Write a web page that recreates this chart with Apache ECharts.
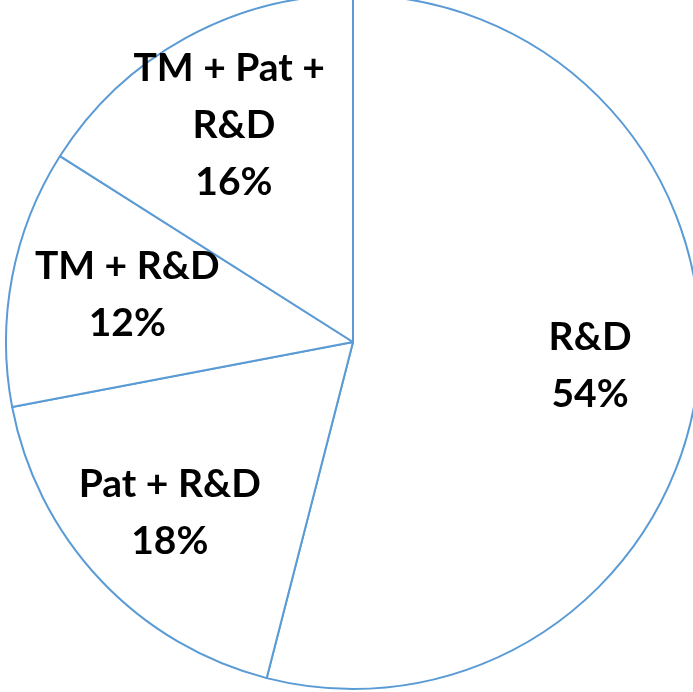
<!DOCTYPE html>
<html>
<head>
<meta charset="utf-8">
<script src="https://cdn.jsdelivr.net/npm/echarts@6/dist/echarts.min.js"></script>
<style>
  html, body { margin: 0; padding: 0; background: #fff; }
  #chart { width: 693px; height: 692px; }
</style>
</head>
<body>
<div id="chart"></div>
<script>
// Share of firms by combination of IP activities
const categories = ['R&D', 'Pat + R&D', 'TM + R&D', 'TM + Pat + R&D'];
const shares = [54, 18, 12, 16];

// Small per-slice nudges for the label placement
const labelNudges = [[0, -6], [-9, 7], [9, -2], [-4, -7]];

const center = [353, 342];
const radius = 347;
const labelFont = {
  fontFamily: 'Lato',
  fontWeight: 'bold',
  fontSize: 39,
  lineHeight: 57,
  color: '#000'
};

const chart = echarts.init(document.getElementById('chart'), null, { renderer: 'canvas' });

chart.setOption({
  animation: false,
  backgroundColor: '#ffffff',
  series: [
    {
      // outlined slices
      type: 'pie',
      center: center,
      radius: [0, radius],
      startAngle: 90,
      clockwise: true,
      silent: true,
      label: { show: false },
      labelLine: { show: false },
      itemStyle: { color: '#ffffff', borderColor: '#5B9BD5', borderWidth: 2 },
      data: categories.map((name, i) => ({ name, value: shares[i] }))
    },
    {
      // label carrier: same slices, invisible, wider so inner labels sit further out
      type: 'pie',
      center: center,
      radius: [0, radius * 1.36],
      startAngle: 90,
      clockwise: true,
      silent: true,
      itemStyle: { color: 'rgba(0,0,0,0)', borderWidth: 0 },
      labelLine: { show: false },
      label: Object.assign({
        show: true,
        position: 'inner',
        align: 'center',
        formatter: p => p.name + '\n' + p.value + '%'
      }, labelFont),
      data: categories.map((name, i) => ({
        name,
        value: shares[i],
        label: Object.assign(
          { offset: labelNudges[i] },
          name === 'TM + Pat + R&D' ? { width: 205, overflow: 'break' } : {}
        )
      }))
    }
  ]
});
</script>
</body>
</html>
